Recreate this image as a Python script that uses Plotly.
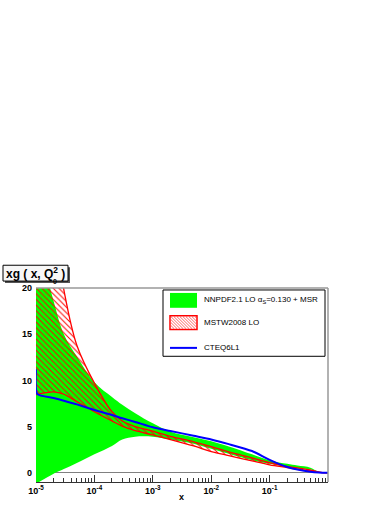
import plotly.graph_objects as go

# x grid shared by the two bands
x_grid = [1e-5, 2e-5, 3e-5, 5e-5, 1e-4, 2e-4, 3e-4, 5e-4, 1e-3, 2e-3,
          5e-3, 1e-2, 2e-2, 5e-2, 0.1, 0.2, 0.3, 0.5, 0.7, 1.0]

# NNPDF2.1 LO band
nnpdf_up = [26.0, 18.6, 15.0, 12.6, 9.8, 8.2, 7.35, 6.45, 5.35, 4.45,
            3.85, 3.4, 2.85, 2.0, 1.33, 0.97, 0.78, 0.55, 0.1, 0.0]
nnpdf_lo = [-1.2, -0.1, 0.4, 1.05, 2.0, 2.9, 3.6, 3.9, 3.9, 3.6,
            3.15, 2.6, 2.05, 1.35, 0.97, 0.62, 0.47, 0.38, 0.05, 0.0]

# MSTW2008 LO band
mstw_up = [45.0, 27.0, 19.8, 13.8, 9.7, 6.6, 5.6, 5.0, 4.5, 3.95,
           3.35, 2.83, 2.25, 1.62, 1.1, 0.68, 0.52, 0.3, 0.08, 0.0]
mstw_lo = [8.45, 8.75, 8.5, 7.7, 6.6, 5.6, 5.05, 4.55, 4.1, 3.6,
           2.9, 2.3, 1.85, 1.28, 0.86, 0.55, 0.36, 0.2, 0.04, 0.0]

# CTEQ6L1 central curve
cteq_x = [1e-5, 1.05e-5, 2e-5, 3e-5, 5e-5, 1e-4, 2e-4, 3e-4, 5e-4, 1e-3,
          2e-3, 5e-3, 1e-2, 2e-2, 5e-2, 0.1, 0.2, 0.3, 0.5, 0.7, 1.0]
cteq = [11.2, 8.55, 8.1, 7.8, 7.4, 6.8, 6.25, 5.9, 5.5, 4.92,
        4.53, 4.0, 3.6, 3.1, 2.35, 1.4, 0.62, 0.35, 0.12, 0.04, 0.0]

legend_names = ["NNPDF2.1 LO α<sub>S</sub>=0.130 + MSR", "MSTW2008 LO", "CTEQ6L1"]
major_ticks = [1e-5, 1e-4, 1e-3, 1e-2, 1e-1]
major_text = ["<b>10<sup>-5</sup></b>", "<b>10<sup>-4</sup></b>", "<b>10<sup>-3</sup></b>",
              "<b>10<sup>-2</sup></b>", "<b>10<sup>-1</sup></b>"]
minor_ticks = [m * 10 ** e for e in range(-5, 0) for m in range(2, 10)]

GREEN, RED, BLUE = "#00ff00", "#ff0000", "#0000ff"
FONT = "Liberation Sans"

# plot area in pixels (for placing the hand-drawn legend / title box)
L, R, T, B = 36, 328, 288, 484


def px(x):
    return (x - L) / (R - L)


def py(y):
    return (B - y) / (B - T)


traces = [
    go.Scatter(x=x_grid, y=nnpdf_lo, mode="lines", line=dict(width=0, shape="spline"),
               hoverinfo="skip", showlegend=False),
    go.Scatter(x=x_grid, y=nnpdf_up, mode="lines", line=dict(width=0, shape="spline"),
               fill="tonexty", fillcolor=GREEN, name=legend_names[0], showlegend=False),
    go.Scatter(x=x_grid, y=mstw_lo, mode="lines", line=dict(color=RED, width=1.3, shape="spline"),
               showlegend=False),
    go.Scatter(x=x_grid, y=mstw_up, mode="lines", line=dict(color=RED, width=1.3, shape="spline"),
               fill="tonexty", fillcolor="rgba(0,0,0,0)",
               fillpattern=dict(shape="\\", fgcolor=RED, bgcolor="rgba(0,0,0,0)",
                                size=4, solidity=0.25, fillmode="replace"),
               name=legend_names[1], showlegend=False),
    go.Scatter(x=cteq_x, y=cteq, mode="lines", line=dict(color=BLUE, width=2, shape="spline", smoothing=0.6),
               name=legend_names[2], showlegend=False),
]

fig = go.Figure(data=traces)

fig.update_layout(
    width=392, height=508,
    margin=dict(l=L, r=392 - R, t=T, b=508 - B, pad=0),
    paper_bgcolor="white", plot_bgcolor="white",
    font=dict(family=FONT, size=9, color="black"),
)

fig.update_xaxes(
    type="log", range=[-5, 0],
    tickmode="array", tickvals=major_ticks, ticktext=major_text,
    ticks="inside", ticklen=7, tickcolor="#333333", tickwidth=1,
    minor=dict(tickmode="array", tickvals=minor_ticks, ticks="inside",
               ticklen=4, tickcolor="#333333", tickwidth=1, showgrid=False),
    showgrid=False, zeroline=False,
    showline=True, linecolor="#333333", linewidth=1,
    tickfont=dict(family=FONT, size=9, color="black"),
)
fig.update_yaxes(
    range=[-1, 20], tickvals=[0, 5, 10, 15, 20],
    ticktext=["<b>0</b>", "<b>5</b>", "<b>10</b>", "<b>15</b>", "<b>20</b>"],
    ticks="", ticklabelstandoff=3,
    showgrid=False, zeroline=True, zerolinecolor="#808080", zerolinewidth=1,
    showline=False,
    tickfont=dict(family=FONT, size=9, color="black"),
)

shapes = []
# frame: top and right in grey
shapes.append(dict(type="line", xref="paper", yref="paper", x0=0, x1=1, y0=1, y1=1,
                   line=dict(color="#999999", width=1.5)))
shapes.append(dict(type="line", xref="paper", yref="paper", x0=1, x1=1, y0=0, y1=1,
                   line=dict(color="#999999", width=1.5)))

# title box with shadow
shapes.append(dict(type="rect", xref="paper", yref="paper",
                   x0=px(5), x1=px(70), y0=py(283), y1=py(267),
                   fillcolor="#555555", line=dict(width=0), layer="above"))
shapes.append(dict(type="rect", xref="paper", yref="paper",
                   x0=px(3), x1=px(68), y0=py(281), y1=py(265),
                   fillcolor="#f7f7f7", line=dict(color="black", width=1), layer="above"))

# legend box
shapes.append(dict(type="rect", xref="paper", yref="paper",
                   x0=px(163), x1=px(325), y0=py(357), y1=py(290),
                   fillcolor="white", line=dict(color="black", width=1), layer="above"))
# legend swatches
shapes.append(dict(type="rect", xref="paper", yref="paper",
                   x0=px(170), x1=px(197), y0=py(308), y1=py(293),
                   fillcolor=GREEN, line=dict(width=0), layer="above"))
shapes.append(dict(type="rect", xref="paper", yref="paper",
                   x0=px(170), x1=px(197), y0=py(330), y1=py(316),
                   fillcolor="white", line=dict(color=RED, width=1.5), layer="above"))
# hatch lines inside the red swatch
hx0, hx1, hy0, hy1 = 171, 196, 317, 329
for k in range(-12, 26, 3):
    xa, ya = hx0 + k, hy0
    xb, yb = xa + (hy1 - hy0), hy1
    # clip segment to box
    if xa < hx0:
        ya, xa = ya + (hx0 - xa), hx0
    if xb > hx1:
        yb, xb = yb - (xb - hx1), hx1
    if xa < xb:
        shapes.append(dict(type="line", xref="paper", yref="paper",
                           x0=px(xa), x1=px(xb), y0=py(ya), y1=py(yb),
                           line=dict(color=RED, width=0.6), layer="above"))
shapes.append(dict(type="line", xref="paper", yref="paper",
                   x0=px(170), x1=px(197), y0=py(348.5), y1=py(348.5),
                   line=dict(color=BLUE, width=2), layer="above"))

fig.update_layout(shapes=shapes)

annotations = [
    dict(text="<b>xg ( x, Q<sup>2</sup> )</b>", x=px(35.5), y=py(273), xref="paper", yref="paper",
         showarrow=False, xanchor="center", yanchor="middle",
         font=dict(family=FONT, size=12, color="black")),
    dict(text="<b>0</b>", x=px(55), y=py(281), xref="paper", yref="paper",
         showarrow=False, xanchor="center", yanchor="middle",
         font=dict(family=FONT, size=7, color="black")),
    dict(text="<b>x</b>", x=px(181), y=py(499), xref="paper", yref="paper",
         showarrow=False, xanchor="center", yanchor="middle",
         font=dict(family=FONT, size=9, color="black")),
]
for name, yy in zip(legend_names, [300, 323, 348]):
    annotations.append(dict(text=name, x=px(202), y=py(yy), xref="paper", yref="paper",
                            showarrow=False, xanchor="left", yanchor="middle",
                            font=dict(family=FONT, size=8, color="black")))
fig.update_layout(annotations=annotations)

# drop the default body margin so the figure sits at the window's corner
fig.write_html("out.html", config={"displayModeBar": False},
               post_script="document.body.style.margin='0px';")
